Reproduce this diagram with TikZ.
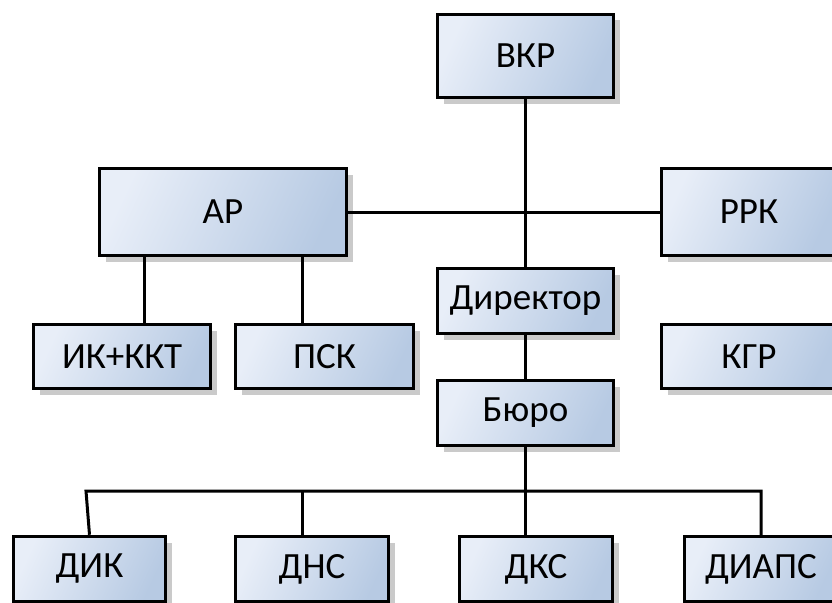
\documentclass[tikz,border=0pt]{standalone}
\usepackage{fontspec}
\setmainfont{Carlito}
\usetikzlibrary{shadows}
\definecolor{boxlight}{HTML}{E8EEF8}
\definecolor{boxdark}{HTML}{B7CAE3}
\definecolor{shadowgray}{HTML}{CACACA}
\tikzset{
  orgbox/.style={draw=black, line width=3.5pt, inner sep=0pt,
    left color=boxlight, right color=boxdark, shading angle=65,
    font=\fontsize{37}{44}\selectfont, text=black,
    drop shadow={shadow xshift=6pt, shadow yshift=-6pt, fill=shadowgray, opacity=1}},
  link/.style={line width=3pt, line cap=rect}
}
\begin{document}
\begin{tikzpicture}[x=1pt, y=-1pt]
\useasboundingbox (0,0) rectangle (832,602);
% nodes (centres in pixel coordinates)
\node[orgbox, minimum width=176pt, minimum height=83pt] (vkr) at (525.5,56) {ВКР};
\node[orgbox, minimum width=247pt, minimum height=87pt] (ap) at (223,212) {АР};
\node[orgbox, minimum width=175pt, minimum height=87pt] (rrk) at (749,212) {РРК};
\node[orgbox, minimum width=176pt, minimum height=65pt] (dir) at (525.5,301) {Директор};
\node[orgbox, minimum width=177pt, minimum height=64pt] (ik) at (122,356.5) {ИК+ККТ};
\node[orgbox, minimum width=178pt, minimum height=64pt] (psk) at (324.5,356.5) {ПСК};
\node[orgbox, minimum width=175pt, minimum height=64pt] (kgr) at (749,356.5) {КГР};
\node[orgbox, minimum width=176pt, minimum height=65pt] (bur) at (525.5,413) {Бюро};
\node[orgbox, minimum width=152pt, minimum height=65pt] (dik) at (89.5,569) {ДИК};
\node[orgbox, minimum width=153pt, minimum height=65pt] (dns) at (312,569) {ДНС};
\node[orgbox, minimum width=153pt, minimum height=65pt] (dks) at (536,569) {ДКС};
\node[orgbox, minimum width=153pt, minimum height=65pt] (diaps) at (761,569) {ДИАПС};
% connectors
\draw[link] (vkr.south) -- (dir.north);
\draw[link] (ap.east) -- (rrk.west);
\draw[link] ([xshift=22pt]ik.north) -- ([xshift=22pt]ik.north |- ap.south);
\draw[link] ([xshift=-22.5pt]psk.north) -- ([xshift=-22.5pt]psk.north |- ap.south);
\draw[link] (dir.south) -- (bur.north);
\coordinate (busL) at (86,491);
\draw[link] (bur.south) -- (bur.south |- dks.north);
\draw[link, line cap=butt] (dik.north) -- (busL) -- (busL -| diaps.north) -- (diaps.north);
\draw[link] ([xshift=-10pt]dns.north) -- ([xshift=-10pt]dns.north |- busL);
\end{tikzpicture}
\end{document}
